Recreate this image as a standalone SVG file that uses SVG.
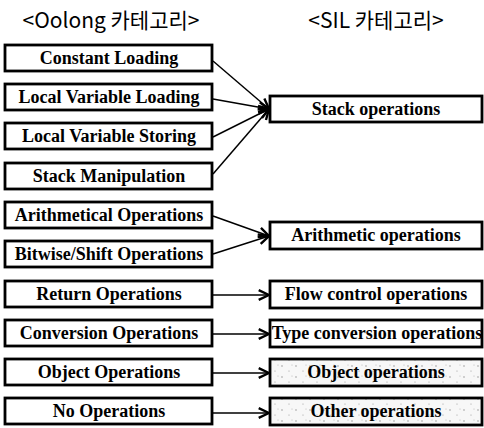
<svg xmlns="http://www.w3.org/2000/svg" width="484" height="428" viewBox="0 0 484 428">
  <defs>
    <style>
      .box { fill: #ffffff; stroke: #000000; stroke-width: 2.8; }
      .dotted { fill: url(#stipple); stroke: #000000; stroke-width: 2.8; }
      .label { font-family: 'Liberation Serif', 'Times New Roman', 'DejaVu Serif', serif; font-weight: 700; font-size: 18px; fill: #000000; text-anchor: middle; }
      .head { font-family: 'Noto Sans CJK KR', 'DejaVu Sans', sans-serif; font-size: 21px; fill: #000000; text-anchor: middle; }
      .link { stroke: #000000; stroke-width: 1.5; fill: none; marker-end: url(#arrow); }
    </style>
    <!-- sparse gray stipple used for the shaded target boxes -->
    <pattern id="stipple" patternUnits="userSpaceOnUse" width="14" height="11">
      <rect width="14" height="11" fill="#f7f7f7"/>
      <circle cx="2" cy="3" r="0.7" fill="#888"/>
      <circle cx="9" cy="8" r="0.6" fill="#999"/>
      <circle cx="12" cy="2" r="0.5" fill="#aaa"/>
    </pattern>
    <marker id="arrow" markerUnits="userSpaceOnUse" markerWidth="13" markerHeight="13" refX="10.5" refY="5" orient="auto" viewBox="0 0 12 10">
      <path d="M1,0.5 L10.5,5 L1,9.5" fill="none" stroke="#000000" stroke-width="2.2"/>
    </marker>
  </defs>

  <!-- column headings -->
  <text class="head" x="111" y="28">&lt;Oolong 카테고리&gt;</text>
  <text class="head" x="376" y="28">&lt;SIL 카테고리&gt;</text>

  <!-- connectors -->
  <g id="connectors">
    <line class="link" x1="213" y1="61" x2="269" y2="109"/>
    <line class="link" x1="213" y1="99" x2="269" y2="109"/>
    <line class="link" x1="213" y1="137" x2="269" y2="109"/>
    <line class="link" x1="213" y1="174" x2="269" y2="109"/>
    <line class="link" x1="213" y1="216" x2="269" y2="236"/>
    <line class="link" x1="213" y1="254" x2="269" y2="236"/>
    <line class="link" x1="213" y1="295" x2="269" y2="295"/>
    <line class="link" x1="213" y1="334" x2="269" y2="334"/>
    <line class="link" x1="213" y1="373" x2="269" y2="373"/>
    <line class="link" x1="213" y1="413" x2="269" y2="413"/>
  </g>

  <!-- Oolong categories -->
  <g id="constant-loading"><rect class="box" x="5" y="45" width="207" height="26"/><text class="label" x="109" y="64">Constant Loading</text></g>
  <g id="local-variable-loading"><rect class="box" x="5" y="84" width="207" height="26"/><text class="label" x="109" y="103">Local Variable Loading</text></g>
  <g id="local-variable-storing"><rect class="box" x="5" y="123" width="207" height="26"/><text class="label" x="109" y="142">Local Variable Storing</text></g>
  <g id="stack-manipulation"><rect class="box" x="5" y="163" width="207" height="26"/><text class="label" x="109" y="182">Stack Manipulation</text></g>
  <g id="arithmetical-operations"><rect class="box" x="5" y="202" width="207" height="26"/><text class="label" x="109" y="221">Arithmetical Operations</text></g>
  <g id="bitwise-shift-operations"><rect class="box" x="5" y="241" width="207" height="26"/><text class="label" x="109" y="260">Bitwise/Shift Operations</text></g>
  <g id="return-operations"><rect class="box" x="5" y="281" width="207" height="26"/><text class="label" x="109" y="300">Return Operations</text></g>
  <g id="conversion-operations"><rect class="box" x="5" y="320" width="207" height="26"/><text class="label" x="109" y="339">Conversion Operations</text></g>
  <g id="object-operations"><rect class="box" x="5" y="359" width="207" height="26"/><text class="label" x="109" y="378">Object Operations</text></g>
  <g id="no-operations"><rect class="box" x="5" y="398" width="207" height="26"/><text class="label" x="109" y="417">No Operations</text></g>

  <!-- SIL categories -->
  <g id="stack-operations"><rect class="box" x="270" y="96" width="212" height="26"/><text class="label" x="376" y="115">Stack operations</text></g>
  <g id="arithmetic-operations"><rect class="box" x="270" y="222" width="212" height="27"/><text class="label" x="376" y="241">Arithmetic operations</text></g>
  <g id="flow-control-operations"><rect class="box" x="270" y="281" width="212" height="27"/><text class="label" x="376" y="300">Flow control operations</text></g>
  <g id="type-conversion-operations"><rect class="box" x="270" y="320" width="212" height="27"/><text class="label" x="377" y="339">Type conversion operations</text></g>
  <g id="sil-object-operations"><rect class="dotted" x="270" y="359" width="212" height="27"/><text class="label" x="376" y="378">Object operations</text></g>
  <g id="other-operations"><rect class="dotted" x="270" y="398" width="212" height="27"/><text class="label" x="376" y="417">Other operations</text></g>
</svg>
